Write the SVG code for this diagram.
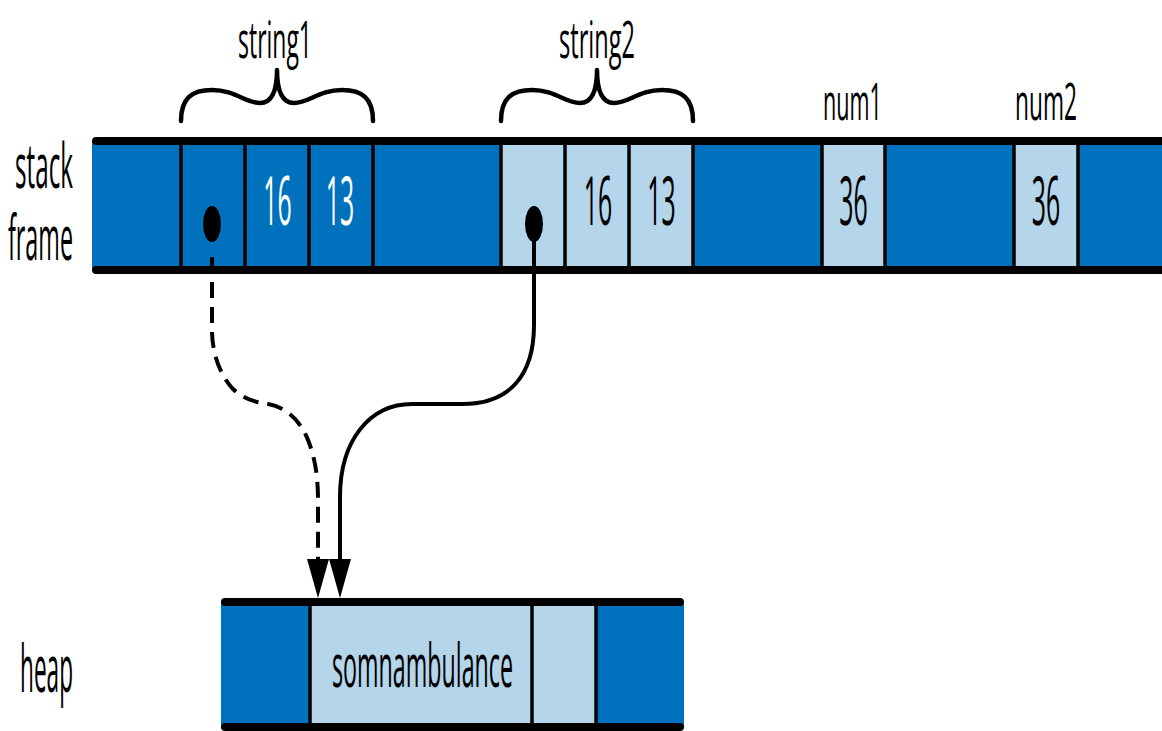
<svg xmlns="http://www.w3.org/2000/svg" width="1162" height="731" viewBox="0 0 1162 731">
<style>
.lbl{font-family:"Open Sans","Liberation Sans",Arial,sans-serif;fill:#000}
.w{fill:#fff}
.num{font-size:67px;text-anchor:middle}
.dark{fill:#0071BC}
.light{fill:#B4D5EA}
.rule{stroke:#000;stroke-width:8;stroke-linecap:round;fill:none}
.div{stroke:#000;stroke-width:3.5;fill:none}
.brace{stroke:#000;stroke-width:4.5;fill:none;stroke-linecap:round;stroke-linejoin:round}
.ptr{stroke:#000;stroke-width:4;fill:none}
</style>
<defs>
<marker id="arrow" markerUnits="userSpaceOnUse" markerWidth="40" markerHeight="22" viewBox="0 0 40 22" refX="26" refY="11" orient="auto">
<path d="M0,0 L39,11 L0,22 z" fill="#000"/>
</marker>
<path id="bracePath" d="M0,51 C0,28 11,20 31,20 C54,20 64,33 79,33 C91,33 96,20 96,0 C96,20 101,33 113,33 C128,33 138,20 161,20 C181,20 192,28 192,51"/>
</defs>

<g id="labels">
<text class="lbl" x="15" y="188" font-size="62" textLength="58" lengthAdjust="spacingAndGlyphs">stack</text>
<text class="lbl" x="8" y="260" font-size="62" textLength="65" lengthAdjust="spacingAndGlyphs">frame</text>
<text class="lbl" x="20" y="692" font-size="66" textLength="53" lengthAdjust="spacingAndGlyphs">heap</text>
</g>

<g id="stack-frame">
<rect class="dark" x="92" y="141" width="1070" height="129"/>
<rect class="light" x="501" y="141" width="192" height="129"/>
<rect class="light" x="822" y="141" width="63" height="129"/>
<rect class="light" x="1014" y="141" width="64" height="129"/>
<line class="rule" x1="96" y1="141" x2="1170" y2="141"/>
<line class="rule" x1="96" y1="270" x2="1170" y2="270"/>
<path class="div" d="M181,141V270 M245,141V270 M309,141V270 M373,141V270 M501,141V270 M565,141V270 M629,141V270 M693,141V270 M822,141V270 M885,141V270 M1014,141V270 M1078,141V270"/>
</g>

<g id="string1">
<use href="#bracePath" class="brace" transform="translate(181 70)"/>
<text class="lbl" x="238" y="58" font-size="52" textLength="74" lengthAdjust="spacingAndGlyphs">string1</text>
<ellipse cx="212" cy="224" rx="9" ry="18" fill="#000"/>
<text class="lbl w num" transform="translate(277.5 225) scale(0.37 1)">16</text>
<text class="lbl w num" transform="translate(340 225) scale(0.37 1)">13</text>
</g>

<g id="string2">
<use href="#bracePath" class="brace" transform="translate(501 70)"/>
<text class="lbl" x="559" y="58" font-size="52" textLength="76" lengthAdjust="spacingAndGlyphs">string2</text>
<ellipse cx="534" cy="224" rx="9" ry="18" fill="#000"/>
<text class="lbl num" transform="translate(598 225) scale(0.37 1)">16</text>
<text class="lbl num" transform="translate(661.5 225) scale(0.37 1)">13</text>
</g>

<g id="num1">
<text class="lbl" x="823" y="120" font-size="52" textLength="59" lengthAdjust="spacingAndGlyphs">num1</text>
<text class="lbl num" transform="translate(853.5 225) scale(0.37 1)">36</text>
</g>

<g id="num2">
<text class="lbl" x="1015" y="120" font-size="52" textLength="62" lengthAdjust="spacingAndGlyphs">num2</text>
<text class="lbl num" transform="translate(1046 225) scale(0.37 1)">36</text>
</g>

<g id="heap">
<rect class="dark" x="221" y="602" width="463" height="125"/>
<rect class="light" x="310" y="602" width="286" height="125"/>
<line class="rule" x1="225" y1="602" x2="680" y2="602"/>
<line class="rule" x1="225" y1="727" x2="680" y2="727"/>
<path class="div" d="M310,602V727 M532,602V727 M596,602V727"/>
<text class="lbl" x="332" y="687" font-size="60" textLength="181" lengthAdjust="spacingAndGlyphs">somnambulance</text>
</g>

<g id="connectors">
<path class="ptr" stroke-dasharray="16 9" d="M212,257 L212,330 C212,350 218,372 232,388 C244,400 256,402 268,404 C286,407 300,420 308,440 C316,460 318,480 318,500 L318,585" marker-end="url(#arrow)"/>
<path class="ptr" d="M534,224 L534,325 C534,375 510,404 462,404 L412,404 C370,404 340,440 340,497 L340,585" marker-end="url(#arrow)"/>
</g>
</svg>
